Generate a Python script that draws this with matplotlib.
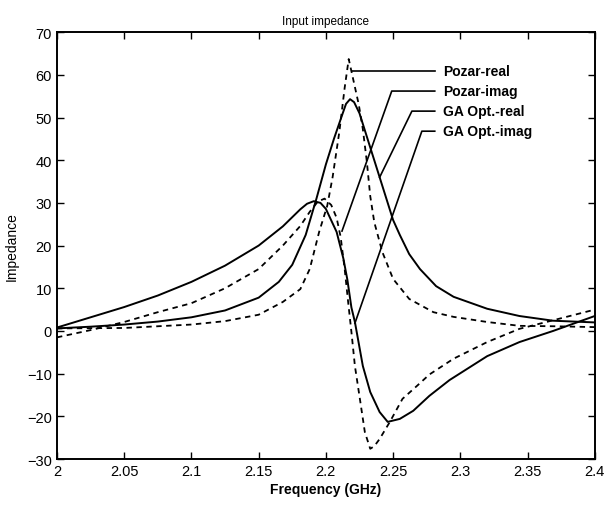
import numpy as np
import matplotlib
matplotlib.use('Agg')
import matplotlib.pyplot as plt

plt.rcParams['font.family'] = ['Liberation Sans', 'DejaVu Sans']

# Pozar - real (dashed)
f_pozar_real = [2.0, 2.05, 2.1, 2.125, 2.15, 2.168, 2.181, 2.188, 2.195, 2.201, 2.205,
                2.21, 2.214, 2.217, 2.221, 2.2245, 2.2275, 2.2305, 2.233, 2.236, 2.242,
                2.25, 2.262, 2.28, 2.295, 2.32, 2.344, 2.37, 2.4]
pozar_real = [0.6, 0.7, 1.5, 2.3, 3.8, 6.8, 9.8, 14.5, 23.2, 29.3, 36,
              46.6, 57, 63.7, 58, 53, 47.3, 39.6, 31.6, 25.5, 18.5,
              12.2, 7.5, 4.4, 3.3, 2.1, 1.2, 1.1, 0.9]

# Pozar - imag (dashed)
f_pozar_imag = [2.0, 2.025, 2.05, 2.075, 2.1, 2.125, 2.15, 2.168, 2.181, 2.188, 2.194,
                2.199, 2.204, 2.208, 2.211, 2.214, 2.2165, 2.219, 2.2216, 2.2253, 2.229,
                2.233, 2.236, 2.24, 2.2476, 2.257, 2.268, 2.277, 2.295, 2.32, 2.344,
                2.369, 2.4]
pozar_imag = [-1.5, 0.2, 2.1, 4.4, 6.5, 10, 14.5, 20, 24.6, 27.9, 30.3,
              31, 29.5, 26.5, 22, 14.5, 7, -0.2, -8.2, -15.9, -23.7,
              -27.6, -27, -25.3, -21.3, -15.9, -12.8, -10.2, -6.5, -2.6, 0.5,
              2.5, 5]

# GA optimised - real (solid)
f_ga_real = [2.0, 2.025, 2.05, 2.075, 2.1, 2.125, 2.15, 2.165, 2.175, 2.185, 2.193,
             2.2, 2.206, 2.212, 2.215, 2.218, 2.221, 2.225, 2.2305, 2.235, 2.242, 2.25,
             2.255, 2.262, 2.27, 2.282, 2.295, 2.32, 2.344, 2.369, 2.4]
ga_real = [0.6, 1.0, 1.5, 2.2, 3.2, 4.8, 7.8, 11.5, 15.5, 22.5, 31,
           39, 45, 50.5, 53.2, 54.3, 53.6, 51, 45.5, 41, 34, 26,
           22.5, 18, 14.5, 10.5, 8, 5.2, 3.5, 2.4, 2.0]

# GA optimised - imag (solid)
f_ga_imag = [2.0, 2.025, 2.05, 2.075, 2.1, 2.125, 2.15, 2.168, 2.181, 2.186, 2.191,
             2.196, 2.2, 2.208, 2.213, 2.216, 2.219, 2.2216, 2.2275, 2.233, 2.24, 2.246,
             2.255, 2.265, 2.277, 2.292, 2.32, 2.344, 2.369, 2.4]
ga_imag = [0.8, 3.2, 5.6, 8.3, 11.5, 15.3, 20, 24.5, 28.5, 29.8, 30.4,
           30, 28.6, 23.2, 17, 12, 5.5, 2.1, -8.2, -14.3, -19, -21.3,
           -20.6, -18.7, -15.2, -11.5, -5.9, -2.6, 0, 3.5]

labels = ['Pozar-real', 'Pozar-imag', 'GA Opt.-real', 'GA Opt.-imag']
x_ticks = [2, 2.05, 2.1, 2.15, 2.2, 2.25, 2.3, 2.35, 2.4]
x_ticklabels = ['2', '2.05', '2.1', '2.15', '2.2', '2.25', '2.3', '2.35', '2.4']
y_ticks = list(range(-30, 71, 10))

fig = plt.figure(figsize=(6.1, 5.1), dpi=100)
ax = fig.add_axes([0.0934, 0.098, 0.8816, 0.837])

ax.plot(f_pozar_real, pozar_real, color='black', lw=1.3, ls=(0, (3, 2.5)))
ax.plot(f_pozar_imag, pozar_imag, color='black', lw=1.3, ls=(0, (3, 2.5)))
ax.plot(f_ga_real, ga_real, color='black', lw=1.4)
ax.plot(f_ga_imag, ga_imag, color='black', lw=1.4)

# labels with leader lines
text_x = 2.287
text_y = [60.9, 56.2, 51.5, 46.8]
elbow_x = [2.2195, 2.249, 2.264, 2.2714]
targets = [(2.2195, 60.9), (2.212, 23.4), (2.240, 36.0), (2.2216, 1.8)]
for lab, ty, ex, (px, py) in zip(labels, text_y, elbow_x, targets):
    ax.plot([text_x - 0.006, ex, px], [ty, ty, py], color='black', lw=1.2)
    ax.text(text_x, ty, lab, fontsize=10, va='center', ha='left', fontweight='bold')

ax.set_xlim(2, 2.4)
ax.set_ylim(-30, 70)
ax.set_xticks(x_ticks)
ax.set_xticklabels(x_ticklabels)
ax.set_yticks(y_ticks)
ax.tick_params(direction='in', length=5, width=1, top=True, right=True, labelsize=10.5)
for s in ax.spines.values():
    s.set_linewidth(1.4)

ax.set_xlabel('Frequency (GHz)', fontsize=10, fontweight='bold', labelpad=3)
ax.set_ylabel('Impedance', fontsize=10, labelpad=6)
ax.set_title('Input impedance', fontsize=8.5, pad=6)

fig.savefig('out.png', dpi=100)
